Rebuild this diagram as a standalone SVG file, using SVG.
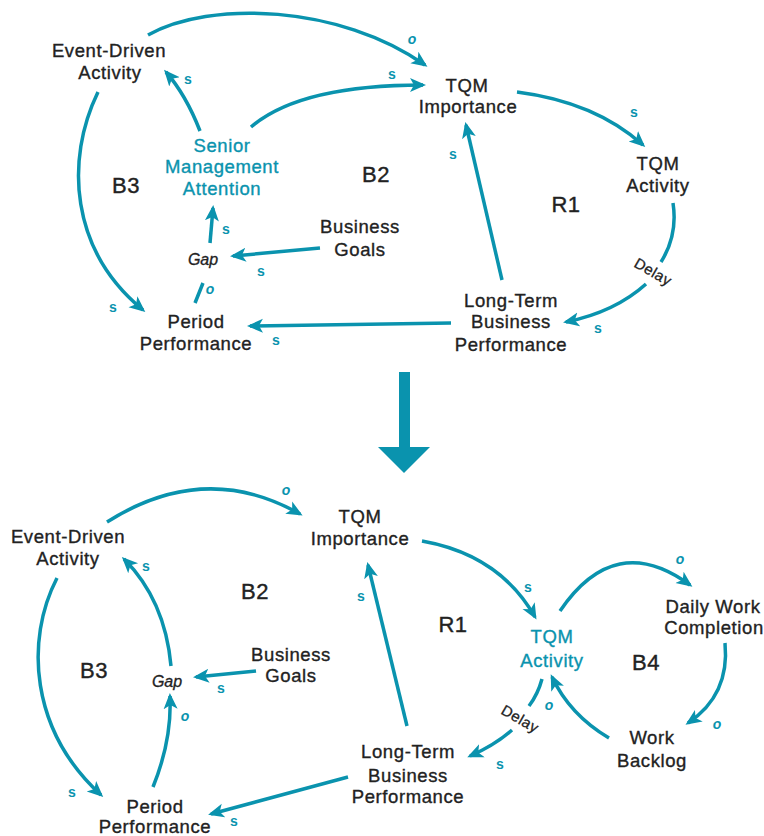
<svg xmlns="http://www.w3.org/2000/svg" width="764" height="836" viewBox="0 0 764 836">
<style>
.t{font-family:"Liberation Sans",Arial,sans-serif;font-size:18.5px;letter-spacing:0.6px;fill:#222;stroke:#222;stroke-width:0.35px;text-anchor:middle}
.t.teal{fill:#0a93ae;stroke:#0a93ae}
.loop{font-family:"Liberation Sans",Arial,sans-serif;font-size:22px;letter-spacing:0.5px;fill:#222;stroke:#222;stroke-width:0.4px;text-anchor:middle}
.gap{font-family:"Liberation Sans",Arial,sans-serif;font-size:16px;font-style:italic;fill:#222;stroke:#222;stroke-width:0.3px;text-anchor:middle}
.dl{font-family:"Liberation Sans",Arial,sans-serif;font-size:15px;letter-spacing:0.4px;fill:#222;stroke:#222;stroke-width:0.3px;text-anchor:middle}
.pol{font-family:"Liberation Sans",Arial,sans-serif;font-size:14px;font-weight:bold;fill:#0a93ae;text-anchor:middle}
.pol.o{font-style:italic}
.c{fill:none;stroke:#0a93ae;stroke-width:3.5}
.a{marker-end:url(#ah)}
</style>
<defs>
<marker id="ah" markerUnits="userSpaceOnUse" markerWidth="18" markerHeight="16" viewBox="0 0 18 16" refX="13" refY="8" orient="auto">
<path d="M0,1 L16,8 L0,15 L4,8 z" fill="#0a93ae"/>
</marker>
</defs>

<g id="connectors">
<!-- top -->
<path class="c a" d="M148,35 C210,0 340,5 425,65"/>
<path class="c a" d="M251,127 Q300,85 423,85"/>
<path class="c a" d="M200,131 Q186,95 166,72"/>
<path class="c a" d="M98,92 C65,160 70,250 143,310"/>
<path class="c a" d="M210,243 L213,208"/>
<path class="c a" d="M320,248 L233,256"/>
<path class="c" d="M195,303 L203,283"/>
<path class="c a" d="M451,323 L250,326"/>
<path class="c a" d="M502,280 L466,125"/>
<path class="c a" d="M517,92 Q595,102 643,145"/>
<path class="c" d="M673,203 Q678,235 661,262"/>
<path class="c a" d="M646,284 Q615,312 566,322"/>
<!-- bottom -->
<path class="c a" d="M107,522 Q205,460 300,514"/>
<path class="c a" d="M171,666 Q165,600 124,559"/>
<path class="c a" d="M57,578 C25,640 30,730 101,795"/>
<path class="c a" d="M153,787 Q172,740 170,696"/>
<path class="c a" d="M256,671 L196,677"/>
<path class="c a" d="M348,777 L211,814"/>
<path class="c a" d="M407,726 L368,565"/>
<path class="c a" d="M422,541 Q500,555 535,617"/>
<path class="c a" d="M560,611 Q615,530 690,585"/>
<path class="c a" d="M725,643 Q730,695 688,723"/>
<path class="c a" d="M609,738 Q570,715 552,677"/>
<path class="c" d="M542,679 Q538,694 529,706"/>
<path class="c a" d="M512,730 Q495,745 470,756"/>
</g>

<g id="big-arrow">
<rect x="399" y="372" width="11" height="77" fill="#0a93ae"/>
<path d="M378,447 L430,447 L404,473 z" fill="#0a93ae"/>
</g>

<g id="top-polarities">
<text class="pol o" x="412" y="44">o</text>
<text class="pol" x="392" y="79">s</text>
<text class="pol" x="188" y="84">s</text>
<text class="pol" x="113" y="312">s</text>
<text class="pol" x="226" y="234">s</text>
<text class="pol" x="261" y="276">s</text>
<text class="pol o" x="210" y="294">o</text>
<text class="pol" x="276" y="345">s</text>
<text class="pol" x="453" y="159">s</text>
<text class="pol" x="634" y="117">s</text>
<text class="pol" x="598" y="333">s</text>
</g>

<g id="bottom-polarities">
<text class="pol o" x="286" y="495">o</text>
<text class="pol" x="146" y="571">s</text>
<text class="pol" x="72" y="797">s</text>
<text class="pol o" x="185" y="721">o</text>
<text class="pol" x="221" y="693">s</text>
<text class="pol" x="234" y="826">s</text>
<text class="pol" x="361" y="601">s</text>
<text class="pol" x="528" y="592">s</text>
<text class="pol o" x="680" y="564">o</text>
<text class="pol o" x="717" y="729">o</text>
<text class="pol o" x="549" y="710">o</text>
<text class="pol" x="500" y="769">s</text>
</g>

<g id="top-event-driven"><text class="t" x="109" y="57">Event-Driven</text><text class="t" x="110" y="79">Activity</text></g>
<g id="top-senior"><text class="t teal" x="222" y="152">Senior</text><text class="t teal" x="222" y="173">Management</text><text class="t teal" x="222" y="195">Attention</text></g>
<g id="top-gap"><text class="gap" x="203" y="265">Gap</text></g>
<g id="top-goals"><text class="t" x="360" y="233">Business</text><text class="t" x="360" y="256">Goals</text></g>
<g id="top-period"><text class="t" x="196" y="328">Period</text><text class="t" x="196" y="350">Performance</text></g>
<g id="top-tqm-importance"><text class="t" x="467" y="92">TQM</text><text class="t" x="468" y="113">Importance</text></g>
<g id="top-tqm-activity"><text class="t" x="658" y="170">TQM</text><text class="t" x="658" y="192">Activity</text></g>
<g id="top-longterm"><text class="t" x="511" y="307">Long-Term</text><text class="t" x="511" y="328">Business</text><text class="t" x="511" y="351">Performance</text></g>
<g id="top-delay"><text class="dl" transform="translate(653,272) rotate(30)" y="5">Delay</text></g>
<g id="top-loops"><text class="loop" x="126" y="193">B3</text><text class="loop" x="376" y="182">B2</text><text class="loop" x="566" y="212">R1</text></g>

<g id="bot-event-driven"><text class="t" x="68" y="543">Event-Driven</text><text class="t" x="68" y="565">Activity</text></g>
<g id="bot-tqm-importance"><text class="t" x="360" y="523">TQM</text><text class="t" x="360" y="545">Importance</text></g>
<g id="bot-gap"><text class="gap" x="167" y="687">Gap</text></g>
<g id="bot-goals"><text class="t" x="291" y="661">Business</text><text class="t" x="291" y="682">Goals</text></g>
<g id="bot-period"><text class="t" x="155" y="813">Period</text><text class="t" x="155" y="833">Performance</text></g>
<g id="bot-longterm"><text class="t" x="408" y="758">Long-Term</text><text class="t" x="408" y="782">Business</text><text class="t" x="408" y="803">Performance</text></g>
<g id="bot-tqm-activity"><text class="t teal" x="552" y="643">TQM</text><text class="t teal" x="552" y="667">Activity</text></g>
<g id="bot-daily"><text class="t" x="713" y="613">Daily Work</text><text class="t" x="714" y="634">Completion</text></g>
<g id="bot-backlog"><text class="t" x="652" y="744">Work</text><text class="t" x="652" y="767">Backlog</text></g>
<g id="bot-delay"><text class="dl" transform="translate(520,719) rotate(30)" y="5">Delay</text></g>
<g id="bot-loops"><text class="loop" x="255" y="599">B2</text><text class="loop" x="94" y="678">B3</text><text class="loop" x="453" y="632">R1</text><text class="loop" x="646" y="670">B4</text></g>
</svg>
